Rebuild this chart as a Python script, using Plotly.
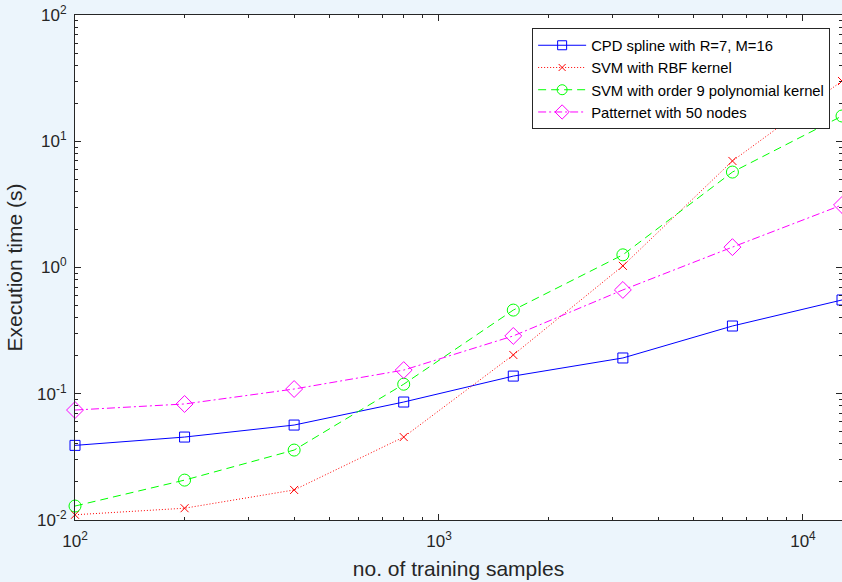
import numpy as np
import plotly.graph_objects as go

# training set sizes
samples = [100, 200, 400, 800, 1600, 3200, 6400, 12800]

# execution times in seconds
cpd_spline = [0.039, 0.0454, 0.0565, 0.086, 0.138, 0.192, 0.344, 0.553]
svm_rbf = [0.0110, 0.0124, 0.0173, 0.0454, 0.203, 1.03, 6.98, 30.0]
svm_poly9 = [0.0129, 0.0207, 0.0358, 0.119, 0.46, 1.26, 5.7, 15.85]
patternet50 = [0.0743, 0.083, 0.109, 0.154, 0.287, 0.664, 1.45, 3.13]

names = [
    "CPD spline with R=7, M=16",
    "SVM with RBF kernel",
    "SVM with order 9 polynomial kernel",
    "Patternet with 50 nodes",
]

x_ticks = [100, 1000, 10000]
x_tick_text = ["10<sup>2</sup>", "10<sup>3</sup>", "10<sup>4</sup>"]
y_ticks = [0.01, 0.1, 1, 10, 100]
y_tick_text = ["10<sup>-2</sup>", "10<sup>-1</sup>", "10<sup>0</sup>", "10<sup>1</sup>", "10<sup>2</sup>"]


def minor_ticks(lo_exp, hi_exp):
    return [m * 10.0 ** e for e in range(lo_exp, hi_exp) for m in range(2, 10)]


styles = [
    dict(color="#0000ff", dash="solid", symbol="square-open", size=10, legend_size=9),
    dict(color="#ff0000", dash="1px,2px", symbol="x-thin-open", size=8, legend_size=7),
    dict(color="#00ff00", dash="8px,5px", symbol="circle-open", size=12, legend_size=10),
    dict(color="#ff00ff", dash="8px,3px,2px,3px", symbol="diamond-open", size=13, legend_size=11),
]

series = [cpd_spline, svm_rbf, svm_poly9, patternet50]

fig = go.Figure()
for name, ys, st in zip(names, series, styles):
    line = dict(color=st["color"], dash=st["dash"], width=1)
    fig.add_trace(go.Scatter(
        x=samples, y=ys, name=name, mode="lines+markers",
        line=line, legendgroup=name, showlegend=False,
        marker=dict(symbol=st["symbol"], size=st["size"], color=st["color"],
                    line=dict(color=st["color"], width=1)),
        cliponaxis=False,
    ))
    # legend entry with a slightly smaller symbol
    fig.add_trace(go.Scatter(
        x=[None], y=[None], name=name, mode="lines+markers",
        line=line, legendgroup=name, showlegend=True,
        marker=dict(symbol=st["symbol"], size=st["legend_size"], color=st["color"],
                    line=dict(color=st["color"], width=1)),
    ))

axis_color = "#262626"
font_family = "Liberation Sans, Arial"


def axis_style(minor_vals):
    return dict(
        type="log",
        showgrid=False,
        zeroline=False,
        showline=True,
        linecolor=axis_color,
        linewidth=1,
        mirror="ticks",
        ticks="inside",
        ticklen=6,
        tickwidth=1,
        tickcolor=axis_color,
        tickfont=dict(family=font_family, size=17, color=axis_color),
        minor=dict(ticks="inside", ticklen=3, tickcolor=axis_color, tickwidth=1,
                   showgrid=False, tickmode="array", tickvals=minor_vals),
    )


fig.update_xaxes(
    **axis_style(minor_ticks(2, 5)),
    range=[2, np.log10(12800)],
    tickvals=x_ticks, ticktext=x_tick_text,
    ticklabelstandoff=6,
    title=dict(text="no. of training samples", standoff=10,
               font=dict(family=font_family, size=21, color=axis_color)),
)
fig.update_yaxes(
    **axis_style(minor_ticks(-2, 2)),
    range=[-2, 2],
    tickvals=y_ticks, ticktext=y_tick_text,
    ticklabelstandoff=4,
    title=dict(text="Execution time (s)", standoff=8,
               font=dict(family=font_family, size=21, color=axis_color)),
)

fig.update_layout(
    width=842, height=582,
    margin=dict(l=75, r=0, t=15, b=62),
    paper_bgcolor="#ecf5fc",
    plot_bgcolor="#ffffff",
    showlegend=True,
    legend=dict(
        x=0.596, y=0.974, xanchor="left", yanchor="top",
        bgcolor="#ffffff", bordercolor="#262626", borderwidth=1,
        font=dict(family=font_family, size=14.8, color="#000000"),
        itemwidth=48, tracegroupgap=0,
    ),
)

fig.write_html("out.html")
